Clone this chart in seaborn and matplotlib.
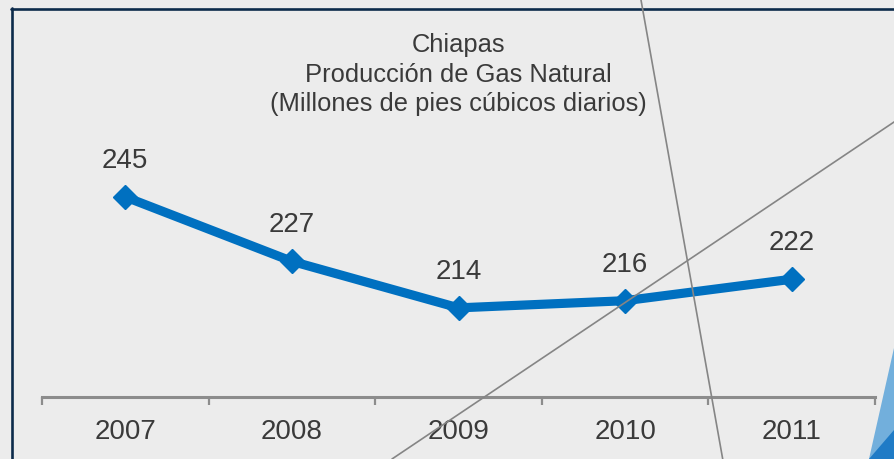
import numpy as np
import pandas as pd
import matplotlib
matplotlib.use("Agg")
import matplotlib.pyplot as plt
from matplotlib.lines import Line2D
from matplotlib.patches import Polygon
import seaborn as sns

# ---- data ----
years = ["2007", "2008", "2009", "2010", "2011"]
production = [245, 227, 214, 216, 222]
title_lines = ["Chiapas", "Producción de Gas Natural", "(Millones de pies cúbicos diarios)"]

W, H = 894, 459
BG = "#ececec"
BLUE = "#0070c0"
TXT = "#3a3a3a"
AXC = "#8c8c8c"

sns.set_theme(style="white")
plt.rcParams["font.family"] = ["Liberation Sans", "DejaVu Sans"]

fig = plt.figure(figsize=(W / 100, H / 100), dpi=100, facecolor=BG)

def fx(px):
    return px / W

def fy(py):
    return 1 - py / H

ax = fig.add_axes([fx(42), fy(397), fx(875) - fx(42), fy(0) - fy(397)])
ax.set_facecolor("none")

df = pd.DataFrame({"pos": np.arange(len(years)), "value": production})
sns.lineplot(data=df, x="pos", y="value", ax=ax, color=BLUE, linewidth=6.6,
             marker="D", markersize=12.5, markeredgecolor=BLUE, markeredgewidth=1)

ax.set_xlim(-0.5, len(years) - 0.5)
ax.set_ylim(189.1, 300)
ax.set_xlabel("")
ax.set_ylabel("")
ax.set_yticks([])

ax.set_xticks(np.arange(len(years) + 1) - 0.5)
ax.set_xticklabels([])
ax.set_xticks(np.arange(len(years)), minor=True)
ax.set_xticklabels(years, minor=True, fontsize=20, color=TXT)
ax.tick_params(axis="x", which="major", direction="out", length=6, width=1.6,
               color=AXC, bottom=True)
ax.tick_params(axis="x", which="minor", length=0, pad=15.5, bottom=True)

for s in ["left", "right", "top"]:
    ax.spines[s].set_visible(False)
ax.spines["bottom"].set_color(AXC)
ax.spines["bottom"].set_linewidth(2.2)

for i, v in enumerate(production):
    ax.annotate(f"{v}", xy=(i, v), xytext=(0, 21), textcoords="offset points",
                ha="center", va="baseline", fontsize=20, color=TXT)

# title
for y_base, line in zip([52.3, 81.7, 110.7], title_lines):
    fig.text(fx(458.3), fy(y_base), line, ha="center", va="baseline",
             fontsize=18.4, color=TXT)

# frame border (decoration)
NAVY = "#0c2b4b"
fig.add_artist(Line2D([fx(12), fx(12)], [fy(8), fy(460)], transform=fig.transFigure,
                      color=NAVY, linewidth=1.9, zorder=5))
fig.add_artist(Line2D([fx(11), fx(900)], [fy(9), fy(9)], transform=fig.transFigure,
                      color=NAVY, linewidth=1.9, zorder=5))

# decorative diagonal lines
GR = "#858585"
fig.add_artist(Line2D([fx(641), fx(722.7)], [fy(0), fy(459)], transform=fig.transFigure,
                      color=GR, linewidth=1.2, zorder=6))
fig.add_artist(Line2D([fx(392), fx(900)], [fy(459), fy(118)], transform=fig.transFigure,
                      color=GR, linewidth=1.2, zorder=6))

# decorative corner triangles
fig.add_artist(Polygon([(fx(894), fy(348)), (fx(869), fy(459)), (fx(894), fy(459))],
                       closed=True, transform=fig.transFigure, facecolor="#72afdc",
                       edgecolor="none", zorder=7))
fig.add_artist(Polygon([(fx(894), fy(430)), (fx(869), fy(459)), (fx(894), fy(459))],
                       closed=True, transform=fig.transFigure, facecolor="#1f7bc6",
                       edgecolor="none", zorder=8))

fig.savefig("out.png", dpi=100, facecolor=BG)
